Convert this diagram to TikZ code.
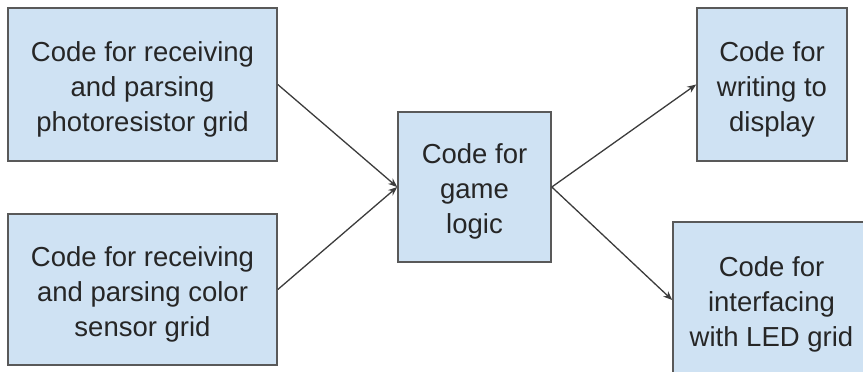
\documentclass[tikz,border=0pt]{standalone}
\usepackage{fontspec}
\setmainfont{Liberation Sans}
\usetikzlibrary{arrows.meta}

\definecolor{boxfill}{HTML}{CFE2F3}
\definecolor{boxline}{HTML}{595959}
\definecolor{arrline}{HTML}{3C3C3C}
\definecolor{txt}{HTML}{262626}
% extra room above the first line of a block
\newcommand{\topgap}{\rule{0pt}{14.5pt}}

\begin{document}
\begin{tikzpicture}[x=0.5pt, y=-0.5pt,
    block/.style={draw=boxline, line width=0.8pt, fill=boxfill, align=center,
      inner sep=0pt, text=txt, font=\fontsize{13.75}{17.5}\selectfont},
    flow/.style={draw=arrline, line width=0.65pt, -{Stealth[length=4.5pt, width=3.6pt]}}]
    \useasboundingbox (0,0) rectangle (863,371);
    % input side
    \node[block, minimum width=134.5pt, minimum height=76.5pt] (photo) at (142.5,84.5)
      {\topgap Code for receiving\\and parsing\\photoresistor grid};
    \node[block, minimum width=134.5pt, minimum height=75.5pt] (color) at (142.5,289.5)
      {\topgap Code for receiving\\and parsing color\\sensor grid};
    % game logic in the middle
    \node[block, minimum width=76.5pt, minimum height=75pt] (logic) at (474.5,187)
      {\topgap Code for\\game\\logic};
    % output side
    \node[block, minimum width=75pt, minimum height=76.5pt] (display) at (772,84.5)
      {\topgap Code for\\writing to\\display};
    \node[block, minimum width=98.5pt, minimum height=78pt] (led) at (771.5,300)
      {\topgap Code for\\interfacing\\with LED grid};
    % connections
    \draw[flow] (photo.east) -- (logic.west);
    \draw[flow] (color.east) -- (logic.west);
    \draw[flow] (logic.east) -- (display.west);
    \draw[flow] (logic.east) -- (led.west);
\end{tikzpicture}
\end{document}
